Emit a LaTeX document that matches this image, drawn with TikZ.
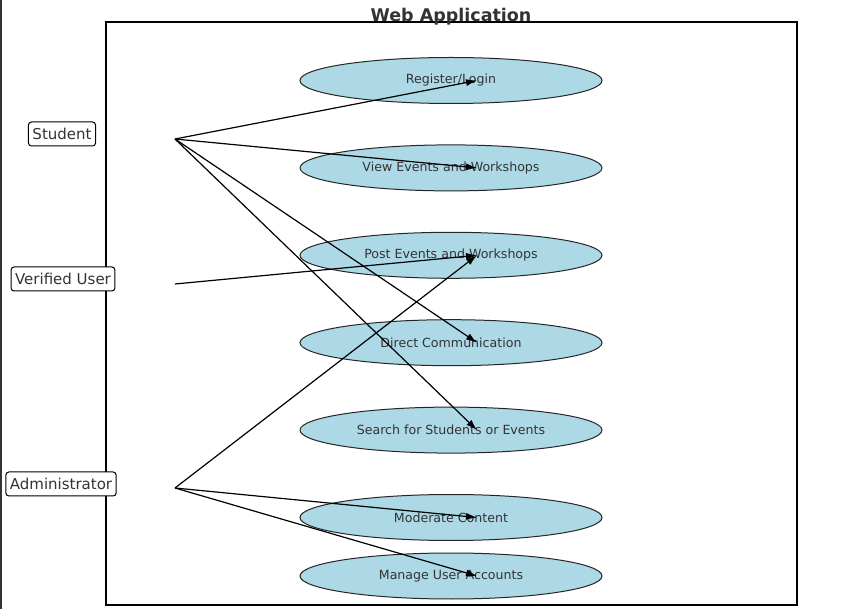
\documentclass[tikz,border=0pt]{standalone}
\usepackage{fontspec}
\setmainfont{DejaVu Sans}
\usepackage{tikz}
\usetikzlibrary{positioning,shapes.geometric,arrows.meta}
\definecolor{lightblue}{HTML}{ADD8E6}
\definecolor{textgray}{HTML}{333333}
\tikzstyle{uc}=[%
      ellipse, draw=black!85, line width=1pt, fill=lightblue, text=textgray,
      minimum width=302pt, minimum height=46pt, inner sep=0pt, outer sep=0pt, font=\fontsize{12.6}{14}\selectfont
]
\tikzstyle{actor}=[%
      rectangle, rounded corners=3pt, draw=black, line width=1pt, fill=white, text=textgray,
      inner xsep=4pt, inner ysep=2pt, minimum height=24pt, font=\fontsize{15}{17}\selectfont
]
\tikzstyle{uses}=[%
      draw=black, line width=1.2pt, -{Latex[length=11pt,width=7pt]}
]

\begin{document}
\begin{tikzpicture}[x=1pt, y=-1pt, node distance=41.4pt]
    \useasboundingbox (0,0) rectangle (868,609);
    \draw[black!80, line width=1.5pt] (0.75,0) -- (0.75,609);

    % system boundary
    \draw[line width=2pt] (106,22) rectangle (797,605);
    \node[font=\bfseries\fontsize{17.5}{19}\selectfont, text=textgray] (title) at (451,17) {Web Application};

    % use cases
    \node[uc] (reg)    at (451,80.5)        {Register/Login};
    \node[uc] (view)   [below = of reg]     {View Events and Workshops};
    \node[uc] (post)   [below = of view]    {Post Events and Workshops};
    \node[uc] (direct) [below = of post]    {Direct Communication};
    \node[uc] (search) [below = of direct]  {Search for Students or Events};
    \node[uc] (mod)    [below = of search]  {Moderate Content};
    \node[uc] (manage) [below = 12.5pt of mod] {Manage User Accounts};

    % actors
    \node[actor] (student)  at (62,134) {Student};
    \node[actor] (verified) at (63,279) {Verified User};
    \node[actor] (admin)    at (61,484) {Administrator};

    \coordinate (s) at (175,139);
    \coordinate (v) at (175,284);
    \coordinate (a) at (175,488);

    \path[every edge/.style=uses]
          (s) edge ([xshift=26pt]reg.center)
          (s) edge ([xshift=26pt]view.center)
          (s) edge ([xshift=26pt]direct.center)
          (s) edge ([xshift=26pt]search.center)
          (v) edge ([xshift=26pt]post.center)
          (a) edge ([xshift=26pt]post.center)
          (a) edge ([xshift=26pt]mod.center)
          (a) edge ([xshift=26pt]manage.center)
    ;

  \end{tikzpicture}
\end{document}
